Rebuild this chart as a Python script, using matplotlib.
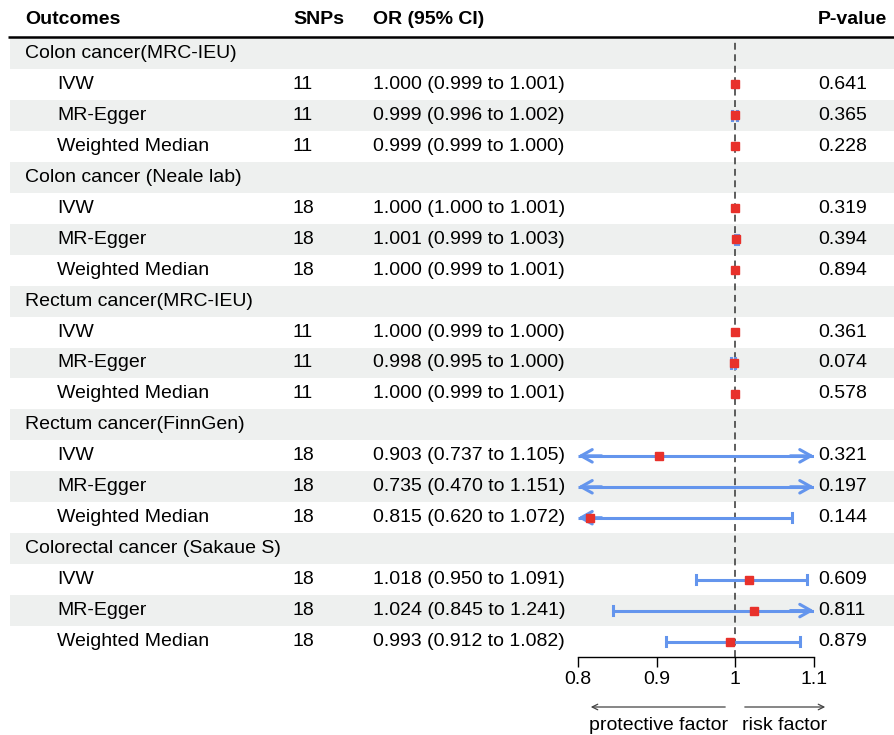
import matplotlib
matplotlib.use('Agg')
import matplotlib.pyplot as plt
from matplotlib.patches import Rectangle

plt.rcParams['font.family'] = ['Liberation Sans', 'DejaVu Sans']

# 数据
groups = ['Colon cancer(MRC-IEU)', 'Colon cancer (Neale lab)', 'Rectum cancer(MRC-IEU)',
          'Rectum cancer(FinnGen)', 'Colorectal cancer (Sakaue S)']
methods = ['IVW', 'MR-Egger', 'Weighted Median']
snps = [11, 11, 11, 18, 18, 18, 11, 11, 11, 18, 18, 18, 18, 18, 18]
or_val = [1.000, 0.999, 0.999, 1.000, 1.001, 1.000, 1.000, 0.998, 1.000,
          0.903, 0.735, 0.815, 1.018, 1.024, 0.993]
ci_low = [0.999, 0.996, 0.999, 1.000, 0.999, 0.999, 0.999, 0.995, 0.999,
          0.737, 0.470, 0.620, 0.950, 0.845, 0.912]
ci_high = [1.001, 1.002, 1.000, 1.001, 1.003, 1.001, 1.000, 1.000, 1.001,
           1.105, 1.151, 1.072, 1.091, 1.241, 1.082]
pvals = ['0.641', '0.365', '0.228', '0.319', '0.394', '0.894', '0.361', '0.074', '0.578',
         '0.321', '0.197', '0.144', '0.609', '0.811', '0.879']
xticks = [0.8, 0.9, 1.0, 1.1]
xtick_labels = ['0.8', '0.9', '1', '1.1']

W, H = 894, 735
FS = 14
BLUE = '#6495ED'
RED = '#E8312B'
GRAY = '#EEF0EF'

fig = plt.figure(figsize=(W / 100, H / 100), dpi=100)

# 背景坐标（像素）
bg = fig.add_axes([0, 0, 1, 1])
bg.set_xlim(0, W)
bg.set_ylim(H, 0)
bg.axis('off')

row_top = 38
row_h = (657 - 38) / 20
n_rows = 20

# 表头
hy = 19
bg.text(25, hy, 'Outcomes', fontsize=FS, fontweight='bold', va='center')
bg.text(293, hy, 'SNPs', fontsize=FS, fontweight='bold', va='center')
bg.text(373, hy, 'OR (95% CI)', fontsize=FS, fontweight='bold', va='center')
bg.text(887, hy, 'P-value', fontsize=FS, fontweight='bold', va='center', ha='right')
bg.plot([8, W], [36.5, 36.5], color='black', lw=1.8, solid_capstyle='butt')

# 行
rows = []
r = 0
k = 0
for g in groups:
    rows.append((r, g, None))
    r += 1
    for m in methods:
        rows.append((r, m, k))
        r += 1
        k += 1

for ri, label, di in rows:
    y0 = row_top + ri * row_h
    yc = y0 + row_h / 2
    if ri % 2 == 0:
        bg.add_patch(Rectangle((10, y0), W - 10, row_h, color=GRAY, lw=0, zorder=0))
    if di is None:
        bg.text(25, yc, label, fontsize=FS, va='center')
    else:
        bg.text(57, yc, label, fontsize=FS, va='center')
        bg.text(293, yc, str(snps[di]), fontsize=FS, va='center')
        bg.text(373, yc, '%.3f (%.3f to %.3f)' % (or_val[di], ci_low[di], ci_high[di]),
                fontsize=FS, va='center')
        bg.text(818, yc, pvals[di], fontsize=FS, va='center')

# 森林图坐标
x0, x1 = 578, 814
ax = fig.add_axes([x0 / W, 1 - 657 / H, (x1 - x0) / W, (657 - 38) / H])
ax.patch.set_alpha(0)
ax.set_xlim(0.8, 1.1)
ax.set_ylim(n_rows - 0.5, -0.5)
for s in ['top', 'left', 'right']:
    ax.spines[s].set_visible(False)
ax.spines['bottom'].set_linewidth(1.0)
ax.set_yticks([])
ax.set_xticks(xticks)
ax.set_xticklabels(xtick_labels, fontsize=FS)
ax.tick_params(axis='x', length=7, width=1.0, pad=3)
ax.axvline(1.0, color='#333333', ls=(0, (4.5, 3)), lw=1.1, zorder=1)

lo_lim, hi_lim = 0.8, 1.1
arrow = '->,head_length=0.8,head_width=0.45'
for ri, label, di in rows:
    if di is None:
        continue
    lo, hi, est = ci_low[di], ci_high[di], or_val[di]
    a = max(lo, lo_lim)
    b = min(hi, hi_lim)
    if hi - lo > 0.003:
        ax.plot([a, b], [ri, ri], color=BLUE, lw=2.2, zorder=2, solid_capstyle='butt')
        if lo < lo_lim:
            ax.annotate('', xy=(lo_lim, ri), xytext=(lo_lim + 0.03, ri),
                        arrowprops=dict(arrowstyle=arrow, color=BLUE, lw=2.2,
                                        shrinkA=0, shrinkB=0), zorder=2)
        else:
            ax.plot([a, a], [ri - 0.15, ri + 0.15], color=BLUE, lw=2.2, zorder=2)
        if hi > hi_lim:
            ax.annotate('', xy=(hi_lim, ri), xytext=(hi_lim - 0.03, ri),
                        arrowprops=dict(arrowstyle=arrow, color=BLUE, lw=2.2,
                                        shrinkA=0, shrinkB=0), zorder=2)
        else:
            ax.plot([b, b], [ri - 0.15, ri + 0.15], color=BLUE, lw=2.2, zorder=2)
    if lo_lim <= est <= hi_lim:
        ax.plot(est, ri, marker='s', ms=5.5, color=RED, mec=RED, zorder=3)

# 底部说明箭头
bg.annotate('', xy=(588, 707), xytext=(728, 707),
            arrowprops=dict(arrowstyle='->', color='#444444', lw=0.9))
bg.annotate('', xy=(828, 707), xytext=(742, 707),
            arrowprops=dict(arrowstyle='->', color='#444444', lw=0.9))
bg.text(589, 725, 'protective factor', fontsize=FS, va='center')
bg.text(742, 725, 'risk factor', fontsize=FS, va='center')

fig.savefig('out.png', dpi=100)
